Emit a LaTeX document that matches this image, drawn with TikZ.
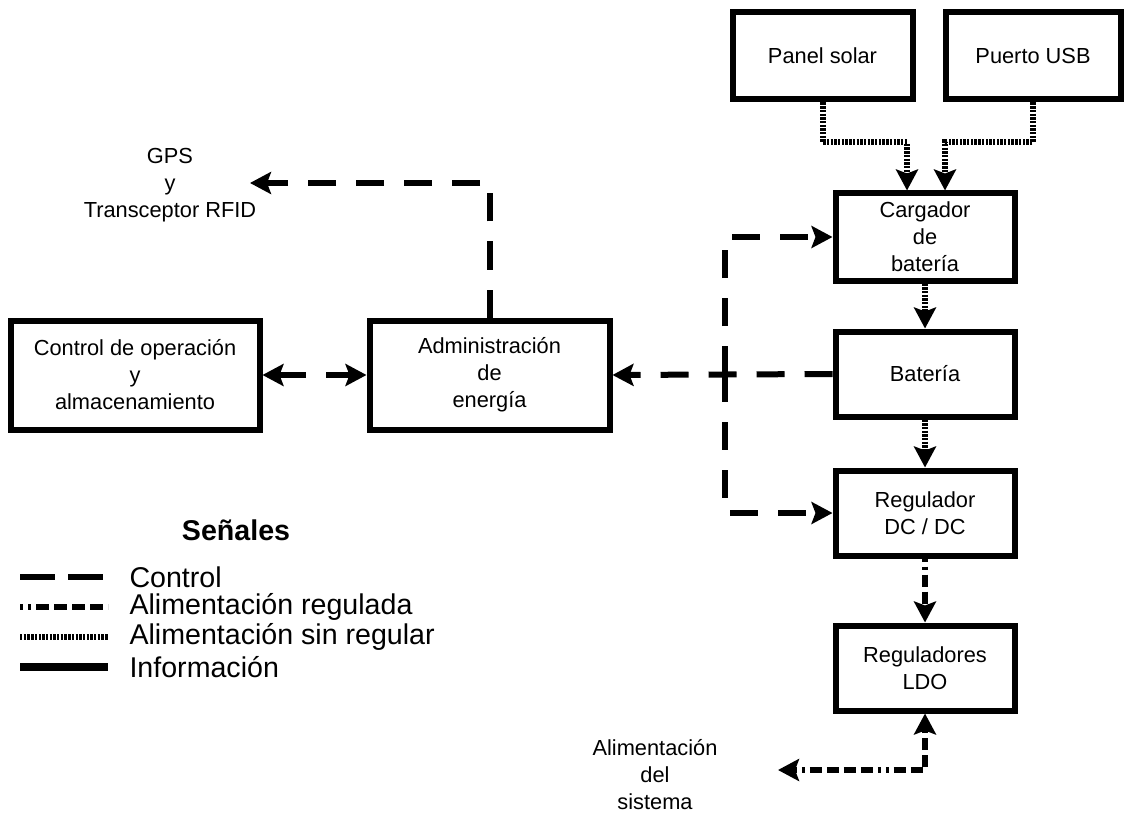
\documentclass[tikz,border=0pt]{standalone}
\usepackage{fontspec}
\setmainfont{Liberation Sans}
\usetikzlibrary{arrows.meta,calc}
\newcommand{\boxfont}{\fontsize{21.8}{27}\selectfont}
\newcommand{\legfont}{\fontsize{28.6}{32}\selectfont}
\begin{document}
\begin{tikzpicture}[x=1pt,y=-1pt,
  >={Stealth[length=21pt,width=22pt,inset=4pt]},
  blockbox/.style={draw, line width=6pt, align=center, font=\boxfont,
    inner sep=0pt},
  lbl/.style={align=center, font=\boxfont},
  ctrlline/.style={line width=6pt, dash pattern=on 28pt off 20pt},
  unregline/.style={line width=6pt, dash pattern=on 2.4pt off 1.3pt},
  regline/.style={line width=6pt, dash pattern=on 3pt off 5pt on 3pt off 5pt on 12pt off 5pt on 12pt off 5pt on 12pt off 5pt on 12pt off 5pt},
  infoline/.style={line width=7.5pt},
]
\useasboundingbox (0,0) rectangle (1126,818);

% blocks
\node[blockbox, minimum width=180pt, minimum height=87pt] (panel) at (822.5,56) {Panel solar};
\node[blockbox, minimum width=175pt, minimum height=87pt] (usb) at (1033,56) {Puerto USB};
\node[blockbox, minimum width=179pt, minimum height=87pt] (carg) at (925,237) {Cargador\\de\\batería};
\node[blockbox, minimum width=179pt, minimum height=85pt] (bat) at (925,374) {Batería};
\node[blockbox, minimum width=179pt, minimum height=85pt] (reg) at (925,513) {Regulador\\DC / DC};
\node[blockbox, minimum width=179pt, minimum height=85pt] (ldo) at (925,668) {Reguladores\\LDO};
\node[blockbox, minimum width=240pt, minimum height=109pt] (admin) at (489.5,375) {Administración\\de\\energía};
\node[blockbox, minimum width=249pt, minimum height=109pt] (ctrl) at (135,375) {Control de operación\\y\\almacenamiento};

% outside labels
\node[lbl] (gps) at (170,185) {GPS\\y\\Transceptor RFID};
\node[lbl] (alim) at (655,775) {Alimentación\\del\\sistema};
\coordinate (gpsend) at (250,183);
\coordinate (alimend) at (778,770);
\coordinate (junc) at (725,374);

% unregulated supply
\draw[unregline,->] (panel.south) -- ++(0,40) -| ($(carg.north)+(-18,0)$);
\draw[unregline,->] (usb.south) -- ++(0,40) -| ($(carg.north)+(20,0)$);
\draw[unregline,->] (carg.south) -- (bat.north);
\draw[unregline,->] (bat.south) -- (reg.north);

% regulated supply
\draw[regline,->] (reg.south) -- (ldo.north);
\draw[regline,<->] (alimend) -| (ldo.south);

% control signals
\draw[ctrlline,->] (admin.north) |- (gpsend);
\draw[ctrlline,<->] (ctrl.east) -- (admin.west);
\draw[ctrlline,->] (bat.west) -- (admin.east);
\draw[ctrlline,->] (junc) |- (carg.west);
\draw[ctrlline,->] (junc) |- (reg.west);

% legend
\node[font=\legfont\bfseries] (leg) at (236,530) {Señales};
\coordinate (l1a) at (20,577); \coordinate (l1b) at (108,577);
\coordinate (l2a) at (20,607); \coordinate (l2b) at (108,607);
\coordinate (l3a) at (20,637); \coordinate (l3b) at (108,637);
\coordinate (l4a) at (20,667); \coordinate (l4b) at (108,667);
\draw[line width=6.5pt, dash pattern=on 35pt off 13pt] (l1a) -- (l1b);
\draw[line width=6.5pt, dash pattern=on 3pt off 5pt on 3pt off 5pt on 13pt off 5pt on 13pt off 5pt on 13pt off 5pt on 13pt off 5pt on 3pt off 5pt on 3pt off 5pt on 8pt] (l2a) -- (l2b);
\draw[line width=6.5pt, dash pattern=on 2.4pt off 1.3pt] (l3a) -- (l3b);
\draw[infoline] (l4a) -- (l4b);
\node[font=\legfont, anchor=west] (t1) at (126,577) {Control};
\node[font=\legfont, anchor=west] (t2) at (126,607) {Alimentación regulada};
\node[font=\legfont, anchor=west] (t3) at (126,637) {Alimentación sin regular};
\node[font=\legfont, anchor=west] (t4) at (126,667) {Información};
\end{tikzpicture}
\end{document}
